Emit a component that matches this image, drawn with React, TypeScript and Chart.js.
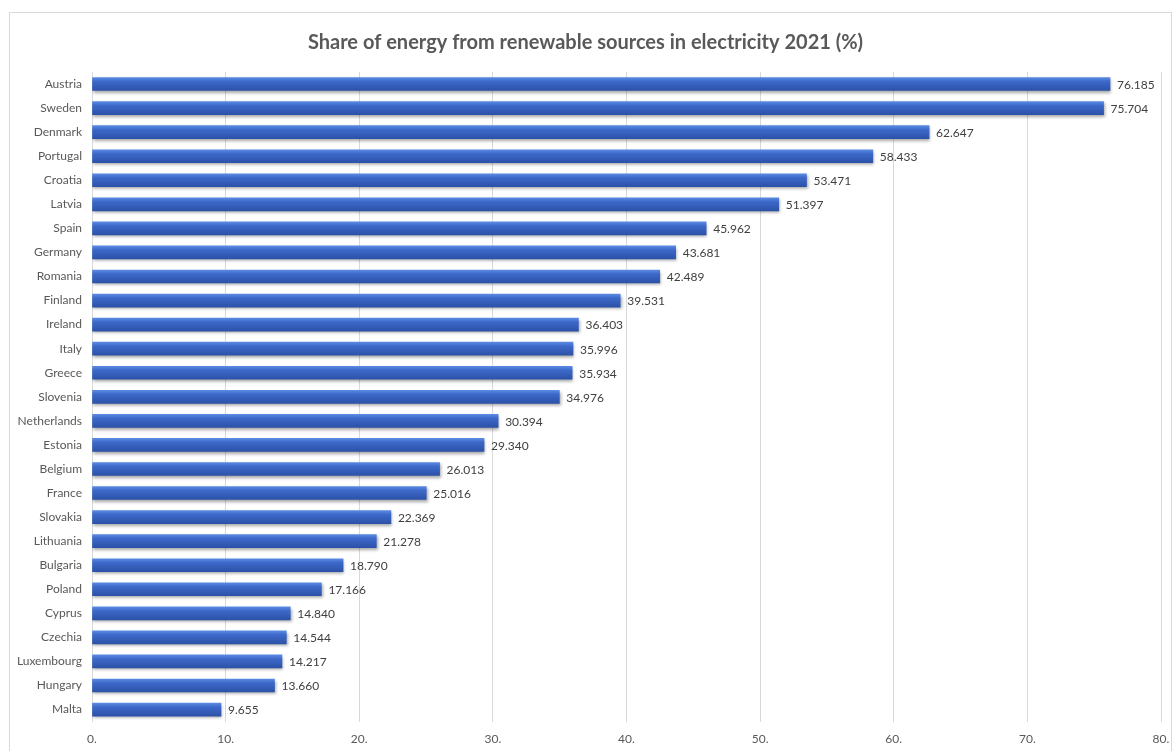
import React, { useEffect, useRef } from "react";
import { Chart, registerables } from "chart.js";

Chart.register(...registerables);

const categories = [
  "Austria", "Sweden", "Denmark", "Portugal", "Croatia", "Latvia", "Spain", "Germany",
  "Romania", "Finland", "Ireland", "Italy", "Greece", "Slovenia", "Netherlands", "Estonia",
  "Belgium", "France", "Slovakia", "Lithuania", "Bulgaria", "Poland", "Cyprus", "Czechia",
  "Luxembourg", "Hungary", "Malta",
];
const shares = [
  76.185, 75.704, 62.647, 58.433, 53.471, 51.397, 45.962, 43.681,
  42.489, 39.531, 36.403, 35.996, 35.934, 34.976, 30.394, 29.34,
  26.013, 25.016, 22.369, 21.278, 18.79, 17.166, 14.84, 14.544,
  14.217, 13.66, 9.655,
];
const xTicks = [0, 10, 20, 30, 40, 50, 60, 70, 80];
const title = "Share of energy from renewable sources in electricity 2021 (%)";

const FONT = "Lato, 'Open Sans', sans-serif";
const BAR_H = 13;

const shadowPlugin = {
  id: "barShadow",
  beforeDatasetsDraw(chart: any) {
    const ctx = chart.ctx;
    ctx.save();
    ctx.shadowColor = "rgba(0,0,0,0.35)";
    ctx.shadowBlur = 3;
    ctx.shadowOffsetX = 1;
    ctx.shadowOffsetY = 2;
  },
  afterDatasetsDraw(chart: any) {
    chart.ctx.restore();
  },
};

const labelPlugin = {
  id: "valueLabels",
  afterDatasetsDraw(chart: any) {
    const ctx = chart.ctx;
    const meta = chart.getDatasetMeta(0);
    const data = chart.data.datasets[0].data as number[];
    ctx.save();
    ctx.font = `12px ${FONT}`;
    ctx.fillStyle = "#404040";
    ctx.textAlign = "left";
    ctx.textBaseline = "middle";
    meta.data.forEach((el: any, i: number) => {
      ctx.fillText(data[i].toFixed(3), el.x + 7, el.y + 1);
    });
    ctx.restore();
  },
};

export default function App() {
  const ref = useRef<HTMLCanvasElement | null>(null);
  useEffect(() => {
    if (!ref.current) return;
    const chart = new Chart(ref.current, {
      type: "bar",
      data: {
        labels: categories,
        datasets: [
          {
            data: shares,
            barThickness: BAR_H,
            backgroundColor: (c: any) => {
              const ch = c.chart;
              const y = ch.scales && ch.scales.y;
              if (!y || !ch.chartArea || c.dataIndex === undefined) return "#3B66C6";
              const cy = y.getPixelForValue(c.dataIndex);
              const g = ch.ctx.createLinearGradient(0, cy - BAR_H / 2, 0, cy + BAR_H / 2);
              g.addColorStop(0, "#5A8AE2");
              g.addColorStop(0.3, "#3D69CA");
              g.addColorStop(1, "#2C52A8");
              return g;
            },
            borderWidth: 0,
          },
        ],
      },
      options: {
        indexAxis: "y",
        animation: false,
        responsive: true,
        maintainAspectRatio: false,
        layout: { padding: { top: 0, right: 10, bottom: 3, left: 0 } },
        plugins: {
          legend: { display: false },
          tooltip: { enabled: false },
          title: {
            display: true,
            text: title,
            color: "#595959",
            font: { family: FONT, size: 20, weight: "bold" },
            padding: { top: 18, bottom: 17 },
          },
        },
        scales: {
          x: {
            min: 0,
            max: 80,
            afterBuildTicks: (s: any) => {
              s.ticks = xTicks.map((v) => ({ value: v }));
            },
            afterFit: (s: any) => {
              s.paddingLeft = 0;
              s.paddingRight = 0;
            },
            ticks: {
              color: "#595959",
              font: { family: FONT, size: 12 },
              padding: 10,
              callback: (v: any) => `${v}.`,
            },
            grid: { color: "#d9d9d9", drawTicks: false },
            border: { display: false },
          },
          y: {
            afterFit: (s: any) => {
              s.width = 82;
            },
            ticks: {
              color: "#595959",
              font: { family: FONT, size: 12 },
              padding: 10,
            },
            grid: { display: false, drawTicks: false },
            border: { display: true, color: "#d9d9d9" },
          },
        },
      },
      plugins: [shadowPlugin, labelPlugin],
    } as any);
    return () => chart.destroy();
  }, []);

  return (
    <div
      style={{
        position: "fixed",
        left: 9,
        top: 12,
        width: 1163,
        height: 747,
        borderLeft: "1px solid #d9d9d9",
        borderTop: "1px solid #d9d9d9",
        borderRight: "1px solid #d9d9d9",
        boxSizing: "border-box",
        background: "#fff",
      }}
    >
      <div style={{ position: "relative", width: "100%", height: "100%" }}>
        <canvas ref={ref} />
      </div>
    </div>
  );
}
